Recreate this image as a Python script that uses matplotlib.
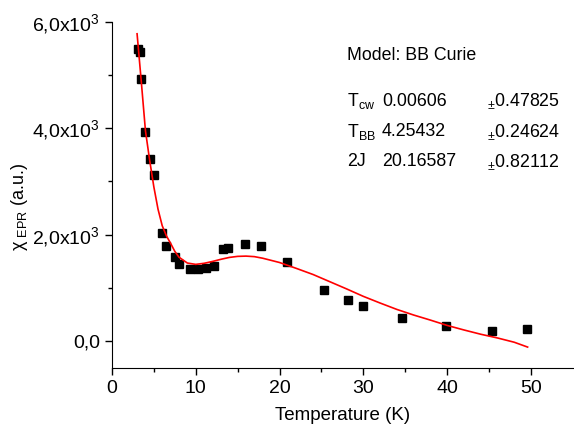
import numpy as np
import matplotlib
matplotlib.use('Agg')
import matplotlib.pyplot as plt
from matplotlib.ticker import FixedLocator, FuncFormatter

plt.rcParams['font.family'] = ['Liberation Sans', 'DejaVu Sans']
plt.rcParams['mathtext.fontset'] = 'custom'
plt.rcParams['mathtext.rm'] = 'Liberation Sans'

# measured points
temp = [3.08, 3.36, 3.48, 3.99, 4.50, 5.02, 5.92, 6.51, 7.50, 8.05, 9.27, 10.3,
        11.17, 12.23, 13.26, 13.89, 15.86, 17.8, 20.95, 25.33, 28.13, 29.95,
        34.64, 39.81, 45.33, 49.55]
chi = [5480, 5430, 4925, 3925, 3425, 3120, 2025, 1794, 1588, 1444, 1350, 1362,
       1375, 1419, 1725, 1750, 1819, 1794, 1488, 956, 769, 656,
       444, 281, 200, 225]

# fit curve
fit_t = [3.0, 3.5, 4.0, 4.5, 5.0, 5.5, 6.0, 6.5, 7.0, 7.5, 8.0, 9.0, 10.0, 11.0,
         12.0, 13.0, 14.0, 15.0, 16.0, 17.0, 18.0, 19.0, 20.0, 22.0, 24.0, 26.0,
         28.0, 30.0, 32.0, 34.0, 36.0, 38.0, 40.0, 42.0, 44.0, 46.0, 48.0, 49.6]
fit_chi = [5770, 4880, 3950, 3400, 2900, 2480, 2170, 1980, 1840, 1690, 1580, 1470,
           1445, 1465, 1500, 1540, 1575, 1595, 1600, 1590, 1560, 1520, 1480, 1370,
           1255, 1120, 985, 845, 720, 600, 495, 400, 300, 215, 135, 65, -15, -106]

params = ['T$_\\mathregular{cw}$', 'T$_\\mathregular{BB}$', '2J']
values = ['0.00606', '4.25432', '20.16587']
errors = ['0.47825', '0.24624', '0.82112']

W, H = 574, 430
fig = plt.figure(figsize=(W / 100, H / 100), dpi=100)
ax = fig.add_axes([0.195, 0.144, 0.803, 0.806])

ax.plot(temp, chi, 's', color='black', markersize=6)
ax.plot(fit_t, fit_chi, '-', color='red', linewidth=1.2)

ax.set_xlim(0, 55)
ax.set_ylim(-500, 6000)
ax.spines['top'].set_visible(False)
ax.spines['right'].set_visible(False)

ax.xaxis.set_major_locator(FixedLocator([0, 10, 20, 30, 40, 50]))
ax.xaxis.set_minor_locator(FixedLocator([5, 15, 25, 35, 45]))
ax.yaxis.set_major_locator(FixedLocator([0, 2000, 4000, 6000]))
ax.yaxis.set_minor_locator(FixedLocator([1000, 3000, 5000]))


def yfmt(v, pos):
    if v == 0:
        return '0,0'
    return '%d,0x10$^\\mathregular{3}$' % int(v / 1000)


ax.yaxis.set_major_formatter(FuncFormatter(yfmt))
ax.tick_params(which='major', direction='out', length=5, width=1, labelsize=14)
ax.tick_params(which='minor', direction='out', length=3, width=1)

ax.set_xlabel('Temperature (K)', fontsize=13.5, labelpad=7)
ax.set_ylabel('χ$_\\mathregular{\\ EPR}$ (a.u.)', fontsize=13)
ax.yaxis.set_label_coords(-0.177, 0.465)


def put(px, py, s):
    fig.text(px / W, 1 - py / H, s, fontsize=12.8, va='center', ha='left')


put(347, 55, 'Model: BB Curie')
for i in range(3):
    yy = 101 + 30.5 * i
    put(347, yy, params[i])
    put(382, yy, values[i])
    put(487, yy, '$_\\mathregular{±}$' + errors[i])

fig.savefig('out.png', dpi=100)
